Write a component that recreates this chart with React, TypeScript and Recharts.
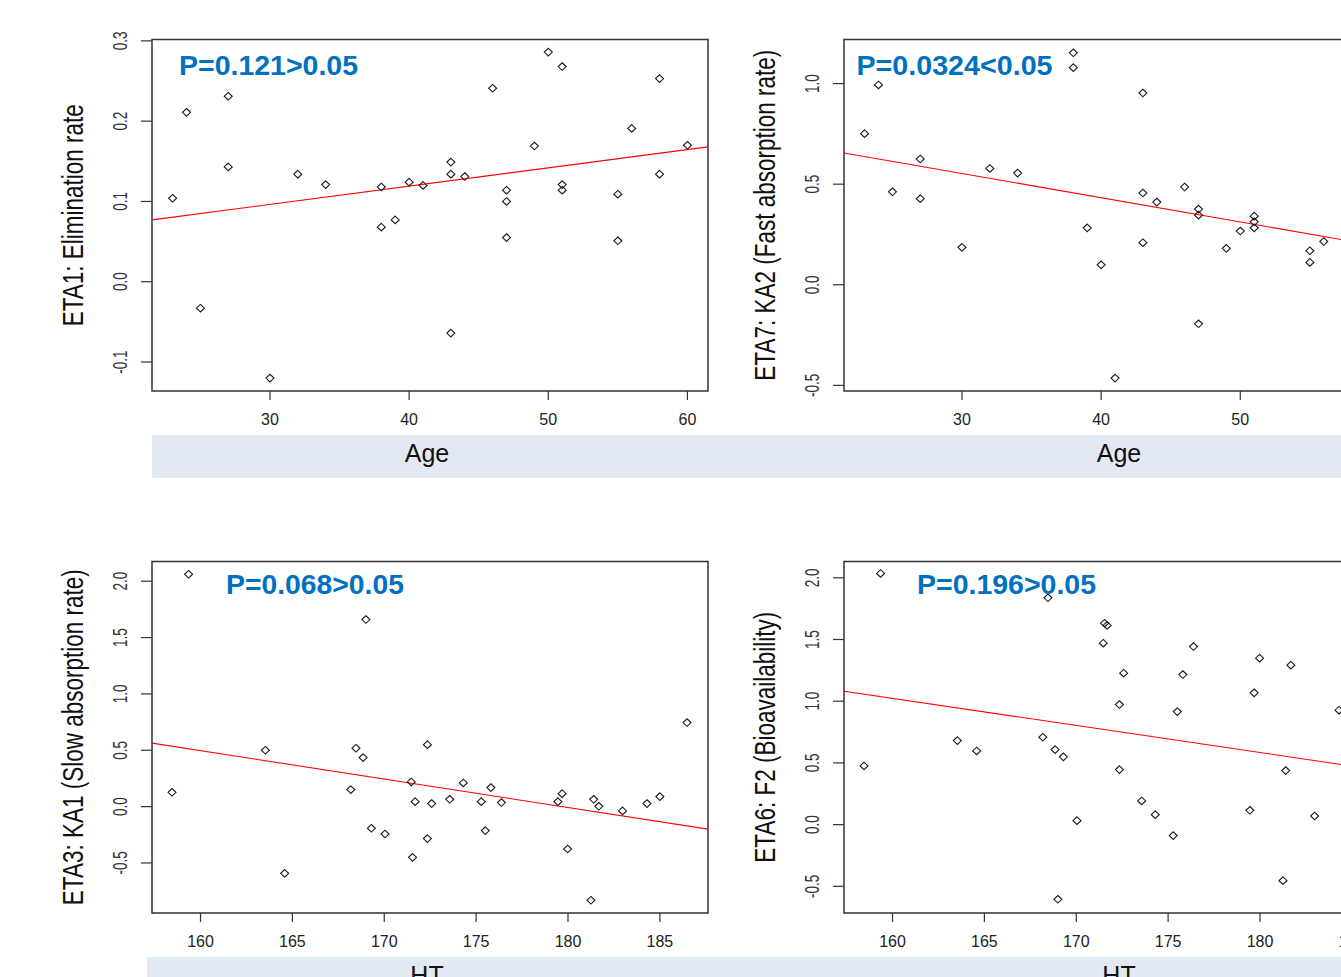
import { ScatterChart, Scatter, XAxis, YAxis, ReferenceArea, ReferenceLine } from 'recharts';

// ages (shared by ETA1 / ETA7 panels)
const AGE = [23, 24, 25, 27, 27, 30, 32, 34, 38, 38, 39, 40, 41, 43, 43, 43, 44, 46, 47, 47, 47, 49, 50, 51, 51, 51, 55, 55, 56, 58, 58, 60];
const ETA1 = [0.104, 0.211, -0.033, 0.231, 0.143, -0.12, 0.134, 0.121, 0.118, 0.068, 0.077, 0.124, 0.12, 0.149, 0.134, -0.064, 0.131, 0.241, 0.114, 0.1, 0.055, 0.169, 0.286, 0.268, 0.121, 0.114, 0.109, 0.051, 0.191, 0.253, 0.134, 0.17];
// last three are cut off on the right of the picture
const ETA7 = [0.751, 0.993, 0.462, 0.625, 0.428, 0.186, 0.578, 0.555, 1.153, 1.079, 0.283, 0.099, -0.464, 0.953, 0.456, 0.209, 0.411, 0.486, 0.376, 0.346, -0.194, 0.181, 0.267, 0.341, 0.313, 0.283, 0.169, 0.111, 0.215, null, null, null];

// heights (shared by ETA3 / ETA6 panels)
const HT = [158.45, 159.35, 163.53, 164.58, 168.18, 168.46, 168.85, 169.0, 169.3, 170.04, 171.47, 171.54, 171.68, 172.35, 172.35, 172.58, 173.56, 174.3, 175.28, 175.5, 175.8, 176.38, 179.45, 179.68, 179.98, 181.25, 181.4, 181.68, 182.97, 184.3, 185.0, 186.48];
const ETA3 = [0.127, 2.062, 0.5, -0.592, 0.151, 0.518, 0.435, 1.66, -0.192, -0.243, 0.219, -0.45, 0.044, 0.55, -0.284, 0.027, 0.065, 0.21, 0.044, -0.213, 0.169, 0.036, 0.044, 0.115, -0.376, -0.831, 0.065, 0.003, -0.038, 0.027, 0.089, 0.746];
const ETA6 = [0.476, 2.035, 0.681, 0.597, 0.708, 1.838, 0.608, -0.605, 0.549, 0.032, 1.47, 1.632, 1.614, 0.973, 0.446, 1.227, 0.192, 0.081, -0.089, 0.916, 1.216, 1.443, 0.116, 1.068, 1.349, -0.454, 0.438, 1.292, 0.07, 0.927, null, null];

// fitted line, value at left / right end of x range
const FIT_ETA1 = [0.077, 0.168];
const FIT_ETA7 = [0.655, 0.174];
const FIT_ETA3 = [0.563, -0.2];
const FIT_ETA6 = [1.081, 0.417];

const AGE_TICKS = [30, 40, 50, 60];
const HT_TICKS = [160, 165, 170, 175, 180, 185];
const TICKS_ETA1 = [-0.1, 0, 0.1, 0.2, 0.3];
const TICKS_ETA7 = [-0.5, 0, 0.5, 1.0];
const TICKS_WIDE = [-0.5, 0, 0.5, 1.0, 1.5, 2.0];

const AGE_DOMAIN = [21.52, 61.48];
const HT_DOMAIN = [157.36, 187.62];

const FONT = "'Liberation Sans', Arial, sans-serif";
const BAND = '#E3E9F2';

const toPoints = (xs: number[], ys: (number | null)[]) =>
    xs.map((x, i) => ({ x, y: ys[i] })).filter((p) => p.y != null);

const Diamond = (props: any) => {
    const { cx, cy } = props;
    const rx = 4;
    const ry = 3.8;
    return (
        <polygon
            points={`${cx},${cy - ry} ${cx + rx},${cy} ${cx},${cy + ry} ${cx - rx},${cy}`}
            fill="none"
            stroke="#1a1a1a"
            strokeWidth={1.1}
        />
    );
};

const XTick = ({ x, y, payload }: any) => (
    <text x={x} y={y + 23} textAnchor="middle" fontSize={16} fill="#222" fontFamily={FONT}>
        {payload.value}
    </text>
);

const YTick = ({ x, y, payload }: any) => (
    <text
        transform={`translate(${x - 12},${y}) rotate(-90) scale(1,1.5)`}
        textAnchor="middle"
        fontSize={13.5}
        fill="#333"
        fontFamily={FONT}
    >
        {Number(payload.value).toFixed(1)}
    </text>
);

interface PanelProps {
    left: number;
    top: number;
    points: { x: number; y: number | null }[];
    xDomain: number[];
    yDomain: number[];
    xTicks: number[];
    yTicks: number[];
    fit: number[];
    xLabel: string;
    yLabel: string;
    pText: string;
    pDx: number;
    pDy: number;
    pWidth: number;
}

const Panel = ({ left, top, points, xDomain, yDomain, xTicks, yTicks, fit, xLabel, yLabel, pText, pDx, pDy, pWidth }: PanelProps) => (
    <div style={{ position: 'absolute', left, top }}>
        <ScatterChart width={720} height={481} margin={{ top: 39.5, right: 12, bottom: 50, left: 92 }}>
            <XAxis
                type="number"
                dataKey="x"
                domain={xDomain}
                ticks={xTicks}
                interval={0}
                allowDataOverflow
                axisLine={false}
                tickSize={9}
                tickLine={{ stroke: '#333', strokeWidth: 1.2 }}
                tick={<XTick />}
                height={40}
                label={(p: any) => {
                    const vb = p.viewBox;
                    return (
                        <text x={vb.x + vb.width / 2 - 3} y={vb.y + 71} textAnchor="middle" fontSize={25} fill="#111" fontFamily={FONT}>
                            {xLabel}
                        </text>
                    );
                }}
            />
            <YAxis
                type="number"
                dataKey="y"
                domain={yDomain}
                ticks={yTicks}
                interval={0}
                allowDataOverflow
                axisLine={false}
                tickSize={11}
                tickLine={{ stroke: '#333', strokeWidth: 1.2 }}
                tick={<YTick />}
                width={60}
                label={(p: any) => {
                    const vb = p.viewBox;
                    const bx = vb.x + vb.width - 69;
                    const by = vb.y + vb.height / 2;
                    return (
                        <text
                            transform={`translate(${bx},${by}) rotate(-90) scale(1,1.3)`}
                            textAnchor="middle"
                            fontSize={22.5}
                            fill="#111"
                            fontFamily={FONT}
                        >
                            {yLabel}
                        </text>
                    );
                }}
            />
            <ReferenceArea
                x1={xDomain[0]}
                x2={xDomain[1]}
                y1={yDomain[0]}
                y2={yDomain[1]}
                fill="none"
                fillOpacity={0}
                stroke="#333"
                strokeWidth={1.5}
                ifOverflow="visible"
                label={(p: any) => {
                    const vb = p.viewBox;
                    return (
                        <text
                            x={vb.x + pDx}
                            y={vb.y + pDy}
                            fontSize={28}
                            fontWeight="bold"
                            fill="#0070C0"
                            fontFamily="'Liberation Sans Narrow', 'Liberation Sans', Arial, sans-serif"
                            textLength={pWidth}
                            lengthAdjust="spacingAndGlyphs"
                        >
                            {pText}
                        </text>
                    );
                }}
            />
            <ReferenceLine
                segment={[
                    { x: xDomain[0], y: fit[0] },
                    { x: xDomain[1], y: fit[1] },
                ]}
                stroke="#FF0000"
                strokeWidth={1.1}
                ifOverflow="hidden"
            />
            <Scatter data={points} shape={<Diamond />} isAnimationActive={false} />
        </ScatterChart>
    </div>
);

export default function App() {
    return (
        <div
            style={{
                position: 'fixed',
                left: 0,
                top: 0,
                width: 1341,
                height: 977,
                overflow: 'hidden',
                background: '#fff',
                fontFamily: FONT,
            }}
        >
            <div style={{ position: 'absolute', left: 152, top: 435, width: 1189, height: 43, background: BAND }} />
            <div style={{ position: 'absolute', left: 147, top: 957, width: 1194, height: 30, background: BAND }} />
            <Panel
                left={0}
                top={0}
                points={toPoints(AGE, ETA1)}
                xDomain={AGE_DOMAIN}
                yDomain={[-0.1361, 0.3017]}
                xTicks={AGE_TICKS}
                yTicks={TICKS_ETA1}
                fit={FIT_ETA1}
                xLabel="Age"
                yLabel="ETA1: Elimination rate"
                pText="P=0.121>0.05"
                pDx={27}
                pDy={35.5}
                pWidth={179}
            />
            <Panel
                left={691.6}
                top={0}
                points={toPoints(AGE, ETA7)}
                xDomain={AGE_DOMAIN}
                yDomain={[-0.528, 1.219]}
                xTicks={AGE_TICKS}
                yTicks={TICKS_ETA7}
                fit={FIT_ETA7}
                xLabel="Age"
                yLabel="ETA7: KA2 (Fast absorption rate)"
                pText="P=0.0324<0.05"
                pDx={12.5}
                pDy={35.5}
                pWidth={196}
            />
            <Panel
                left={0}
                top={521.5}
                points={toPoints(HT, ETA3)}
                xDomain={HT_DOMAIN}
                yDomain={[-0.944, 2.175]}
                xTicks={HT_TICKS}
                yTicks={TICKS_WIDE}
                fit={FIT_ETA3}
                xLabel="HT"
                yLabel="ETA3: KA1 (Slow absorption rate)"
                pText="P=0.068>0.05"
                pDx={74}
                pDy={32}
                pWidth={178}
            />
            <Panel
                left={691.6}
                top={521.5}
                points={toPoints(HT, ETA6)}
                xDomain={HT_DOMAIN}
                yDomain={[-0.716, 2.132]}
                xTicks={HT_TICKS}
                yTicks={TICKS_WIDE}
                fit={FIT_ETA6}
                xLabel="HT"
                yLabel="ETA6: F2 (Bioavailability)"
                pText="P=0.196>0.05"
                pDx={73}
                pDy={32}
                pWidth={179}
            />
        </div>
    );
}
